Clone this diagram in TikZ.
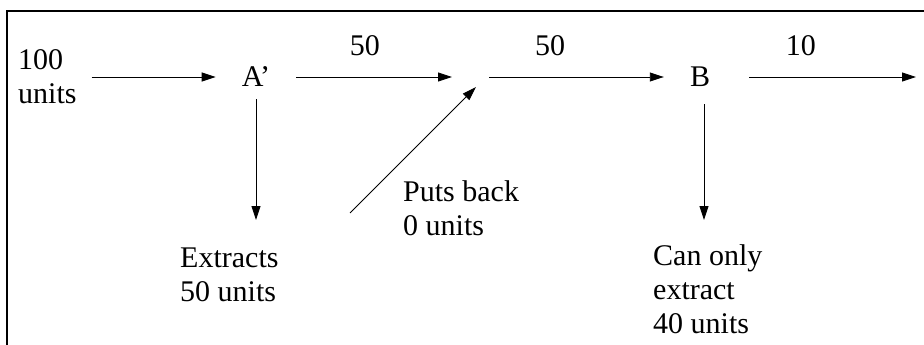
\documentclass[tikz,border=0pt]{standalone}
\usepackage{fontspec}
\setmainfont{Liberation Serif}
\usepackage{tikz}
\usetikzlibrary{arrows.meta,positioning}
\newcommand{\flowfont}{\fontsize{30}{34}\selectfont}
\tikzset{
  flowstation/.style={inner xsep=26pt, inner ysep=12pt, font=\flowfont},
  flownote/.style={align=left, inner sep=0pt, font=\flowfont},
  flowedge/.style={-{Triangle[length=14pt,width=9pt]}, line width=0.9pt},
  flowlabel/.style={inner sep=2pt, font=\flowfont},
  flowframe/.style={line width=1.6pt}
}

\begin{document}
\begin{tikzpicture}[x=1pt,y=-1pt]
  \useasboundingbox (0,0) rectangle (924,345);
  \draw[flowframe] (7,345) -- (7,11) -- (924,11);
  \node[flownote,anchor=west] (src) at (18,77) {100\\units};
  \node[flowstation] (ap) at (256,77) {A’};
  \node[flowstation] (b) at (700,77) {B};
  \coordinate (mid) at (471,77);
  \coordinate (out) at (916,77);
  \coordinate (back) at (350,213);
  \node[flownote,anchor=north west] (extract) at (180,248) {Extracts\\50 units};
  \node[flownote,anchor=north west] (putback) at (403,180) {Puts back\\0 units};
  \node[flownote,anchor=north west] (limit) at (653,244) {Can only\\extract\\40 units};
  \draw[flowedge] ([xshift=15pt]src.east) -- (ap);
  \draw[flowedge] (ap) -- node[flowlabel,above=19pt,pos=0.44] {50} ([xshift=-19pt]mid);
  \draw[flowedge] ([xshift=18pt]mid) -- node[flowlabel,above=19pt,pos=0.35] {50} (b);
  \draw[flowedge] ([xshift=13pt]b.east) -- node[flowlabel,above=19pt,pos=0.31] {10} (out);
  \draw[flowedge,shorten >=28pt] (ap.south) -- (ap.south |- extract.north);
  \draw[flowedge,shorten >=24pt] ([shift={(4,5)}]b.south) -- ([xshift=4pt]b.south |- limit.north);
  \draw[flowedge] (back) -- ([shift={(5,10)}]mid);
\end{tikzpicture}
\end{document}
